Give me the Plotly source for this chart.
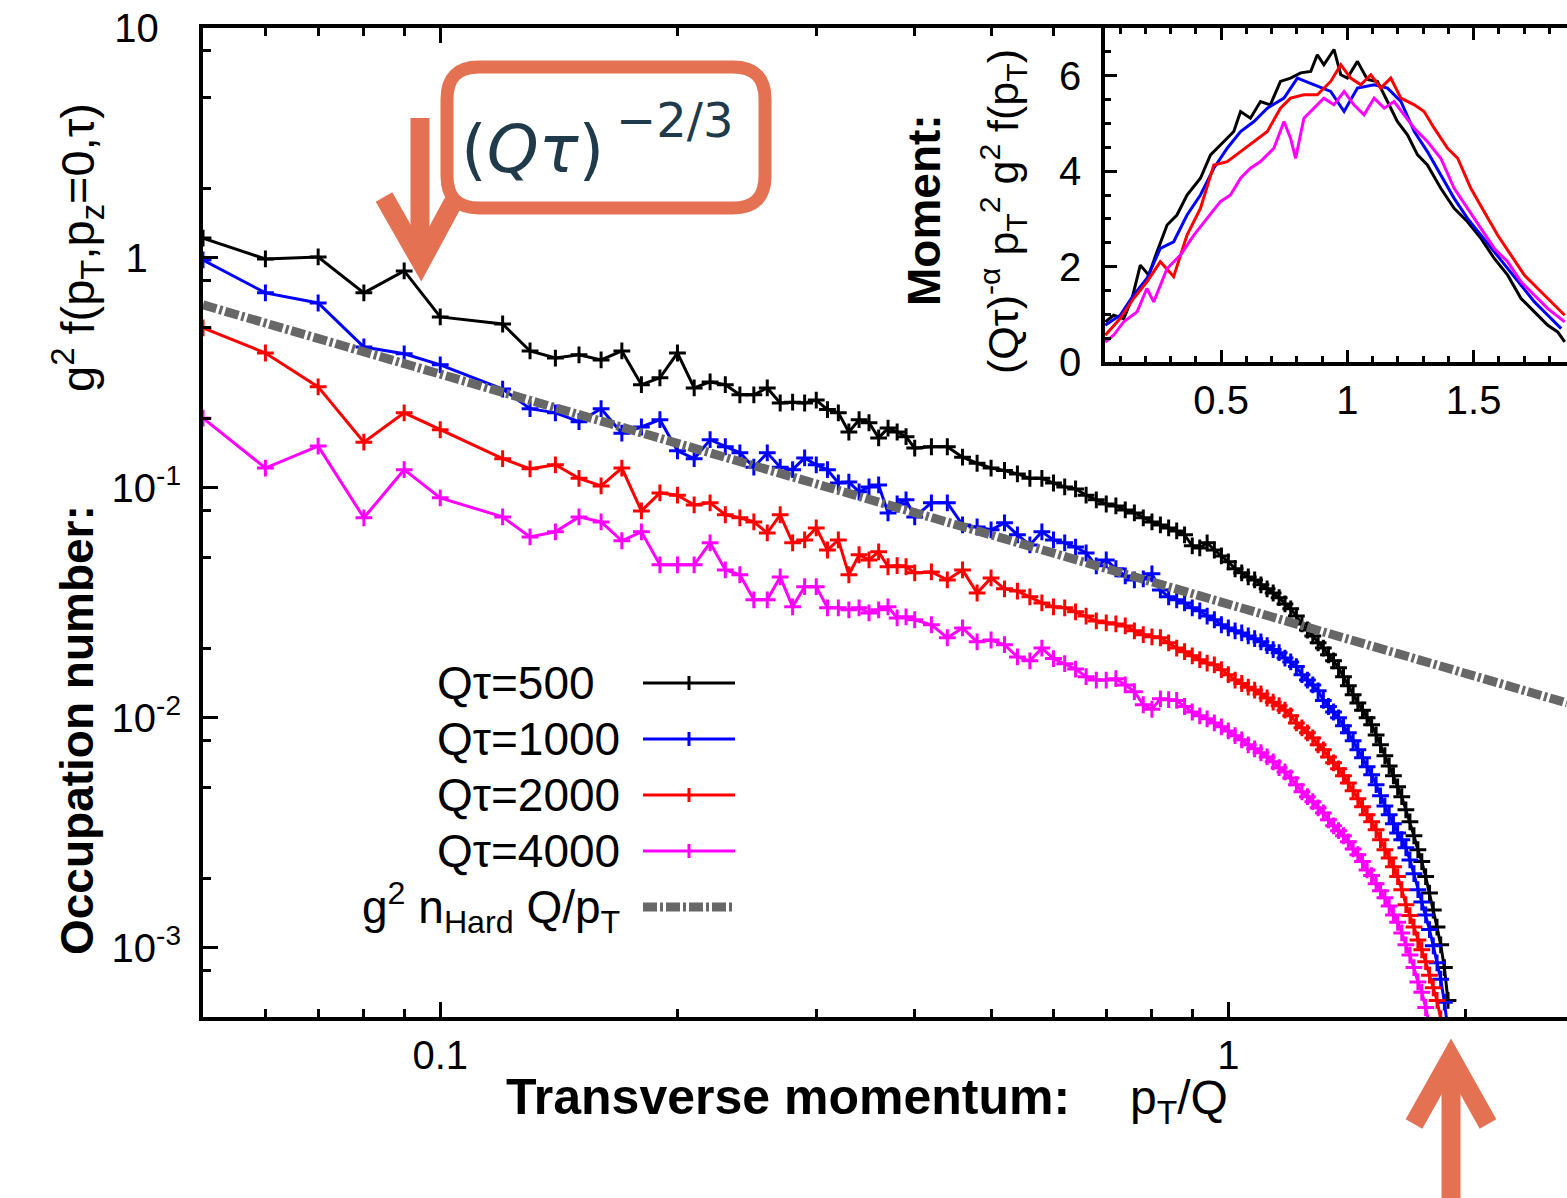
import math
import plotly.graph_objects as go

# ---------------------------------------------------------------- data
# transverse momentum grid p_T/Q of the lattice spectra
pt = [0.05, 0.06, 0.07, 0.08, 0.09, 0.10,
      0.12, 0.13, 0.14, 0.15, 0.16, 0.17, 0.18, 0.19, 0.20, 0.21, 0.22, 0.23,
      0.24, 0.25, 0.26, 0.27, 0.28, 0.29, 0.30, 0.31, 0.32, 0.33, 0.34, 0.35,
      0.36, 0.37, 0.38, 0.39,
      0.40, 0.42, 0.44, 0.46, 0.48, 0.50, 0.52, 0.54, 0.56, 0.58, 0.60, 0.62,
      0.64, 0.66, 0.68, 0.70, 0.72, 0.74, 0.76, 0.78, 0.80, 0.82, 0.84, 0.86,
      0.88, 0.90, 0.92, 0.94, 0.96, 0.98, 1.00, 1.02, 1.04, 1.06, 1.08, 1.10,
      1.12, 1.14, 1.16, 1.18, 1.20, 1.22, 1.24, 1.26, 1.28, 1.30, 1.32, 1.34,
      1.36, 1.38, 1.40, 1.42, 1.44, 1.46, 1.48, 1.50, 1.52, 1.54, 1.56, 1.58,
      1.60, 1.62, 1.64, 1.66, 1.68, 1.70, 1.72, 1.74, 1.76, 1.78, 1.80, 1.82,
      1.84, 1.86, 1.88, 1.90]

# g^2 f(p_T, p_z=0, tau) at Q tau = 500
occ_500 = [1.22, 0.99, 1.01, 0.705, 0.878, 0.554,
           0.516, 0.394, 0.367, 0.379, 0.360, 0.394, 0.281, 0.301, 0.386, 0.272,
           0.289, 0.281, 0.254, 0.254, 0.272, 0.234, 0.236, 0.234, 0.241, 0.219,
           0.212, 0.175, 0.198, 0.192, 0.165, 0.182, 0.175, 0.167,
           0.149, 0.151, 0.151, 0.136, 0.128, 0.122, 0.119, 0.115, 0.110, 0.110,
           0.105, 0.101, 0.099, 0.093, 0.0887, 0.0851, 0.0835, 0.0802, 0.0778,
           0.0741, 0.0711, 0.0690, 0.0670, 0.0650, 0.0625, 0.0560, 0.0548,
           0.0577, 0.0537, 0.0506, 0.0477, 0.0445, 0.0427, 0.0410, 0.0398,
           0.0379, 0.0364, 0.0349, 0.0333, 0.0313, 0.0298, 0.0277, 0.0256,
           0.0241, 0.0227, 0.0212, 0.0201, 0.0188, 0.0177, 0.0165, 0.0151,
           0.0138, 0.0126, 0.0116, 0.0108, 0.0100, 0.00933, 0.00843, 0.00763,
           0.00684, 0.00618, 0.00560, 0.00501, 0.00454, 0.00398, 0.00353,
           0.00307, 0.00267, 0.00237, 0.00204, 0.00173, 0.00146, 0.00123,
           0.00103, 0.00082, 0.00059]

# Q tau = 1000
occ_1000 = [0.98, 0.705, 0.637, 0.410, 0.383, 0.343,
            0.269, 0.221, 0.212, 0.194, 0.221, 0.173, 0.184, 0.198, 0.145, 0.134,
            0.162, 0.151, 0.142, 0.123, 0.142, 0.123, 0.120, 0.135, 0.126, 0.120,
            0.105, 0.106, 0.0961, 0.101, 0.103, 0.0778, 0.0851, 0.0887,
            0.0748, 0.0861, 0.0861, 0.0690, 0.0676, 0.0657, 0.0705, 0.0625,
            0.0565, 0.0644, 0.0594, 0.0577, 0.0553, 0.0521, 0.0458, 0.0486,
            0.0445, 0.0414, 0.0398, 0.0402, 0.0423, 0.0360, 0.0336, 0.0326,
            0.0316, 0.0301, 0.0292, 0.0277, 0.0267, 0.0254, 0.0246, 0.0239,
            0.0234, 0.0227, 0.0221, 0.0214, 0.0206, 0.0198, 0.0192, 0.0182,
            0.0175, 0.0167, 0.0154, 0.0146, 0.0139, 0.0131, 0.0119, 0.0112,
            0.0106, 0.0100, 0.00923, 0.00861, 0.00794, 0.00726, 0.00670,
            0.00612, 0.00565, 0.00512, 0.00458, 0.00414, 0.00379, 0.00346,
            0.00316, 0.00295, 0.00272, 0.00241, 0.00210, 0.00179, 0.00158,
            0.00139, 0.00120, 0.00102, 0.00086, 0.00073, 0.00058, 0.00044]

# Q tau = 2000
occ_2000 = [0.496, 0.386, 0.275, 0.158, 0.212, 0.179,
            0.134, 0.121, 0.126, 0.110, 0.102, 0.122, 0.0794, 0.0951, 0.093,
            0.0843, 0.0861, 0.0764, 0.0741, 0.0711, 0.0637, 0.0764, 0.0577,
            0.0594, 0.0670, 0.0537, 0.0594, 0.0419, 0.0512, 0.0486, 0.0527,
            0.0454, 0.0459, 0.0454,
            0.0427, 0.0431, 0.0398, 0.0440, 0.0349, 0.0406, 0.0364, 0.0356,
            0.0336, 0.0316, 0.0304, 0.0301, 0.0289, 0.0277, 0.0264, 0.0259,
            0.0256, 0.0251, 0.0239, 0.0230, 0.0225, 0.0223, 0.0212, 0.0201,
            0.0194, 0.0186, 0.0179, 0.0173, 0.0170, 0.0162, 0.0154, 0.0146,
            0.0141, 0.0136, 0.0132, 0.0127, 0.0122, 0.0117, 0.0113, 0.0108,
            0.0102, 0.0095, 0.00905, 0.00861, 0.00818, 0.00763, 0.00726,
            0.00676, 0.00637, 0.00600, 0.00560, 0.00521, 0.00482, 0.00445,
            0.00410, 0.00379, 0.00353, 0.00326, 0.00295, 0.00267, 0.00246,
            0.00225, 0.00204, 0.00179, 0.00154, 0.00138, 0.00123, 0.00108,
            0.00098, 0.00087, 0.00076, 0.00067, 0.00059, 0.00049, None, None]

# Q tau = 4000
occ_4000 = [0.201, 0.122, 0.152, 0.0741, 0.120, 0.0905,
            0.0748, 0.0612, 0.0644, 0.0748, 0.0711, 0.0589, 0.0644, 0.0463,
            0.0463, 0.0463, 0.0577, 0.0440, 0.0419, 0.0326, 0.0326, 0.0410,
            0.0304, 0.0372, 0.0372, 0.0301, 0.0301, 0.0295, 0.0301, 0.0286,
            0.0295, 0.0304, 0.0272, 0.0275,
            0.0267, 0.0254, 0.0223, 0.0246, 0.0214, 0.0218, 0.0208, 0.0184,
            0.0177, 0.0201, 0.0181, 0.0172, 0.0163, 0.0151, 0.0146, 0.0146,
            0.0148, 0.0139, 0.0130, 0.0114, 0.0109, 0.0121, 0.0120, 0.0119,
            0.0112, 0.0106, 0.0102, 0.0099, 0.0095, 0.00914, 0.00877, 0.00836,
            0.00802, 0.00763, 0.00733, 0.00705, 0.00676, 0.00644, 0.00607,
            0.00582, 0.00548, 0.00512, 0.00477, 0.00454, 0.00432, 0.00406,
            0.00386, 0.00360, 0.00339, 0.00323, 0.00307, 0.00289, 0.00269,
            0.00254, 0.00237, 0.00218, 0.00206, 0.00190, 0.00177, 0.00165,
            0.00152, 0.00139, 0.00129, 0.00116, 0.00103, 0.00093, 0.00082,
            0.00071, 0.00064, 0.00055, 0.00046, None, None, None, None, None]

# hard-scale reference  g^2 n_Hard Q/p_T
hard_pt = [0.05, 2.69]
hard_val = [0.625, 0.0116]

# inset: rescaled moment (Q tau)^-alpha p_T^2 g^2 f(p_T)
mom_x_500 = [0.041, 0.074, 0.114, 0.147, 0.18, 0.213, 0.246, 0.286, 0.325,
             0.365, 0.418, 0.458, 0.511, 0.55, 0.577, 0.616, 0.656, 0.695,
             0.735, 0.775, 0.815, 0.855, 0.881, 0.907, 0.947, 0.974, 1.0,
             1.04, 1.079, 1.119, 1.159, 1.198, 1.238, 1.278, 1.317, 1.37,
             1.423, 1.476, 1.529, 1.582, 1.635, 1.688, 1.741, 1.794, 1.833,
             1.861]
mom_y_500 = [0.84, 0.98, 0.91, 1.33, 2.03, 1.82, 2.31, 2.87, 3.08, 3.50, 3.85,
             4.34, 4.62, 4.83, 5.25, 5.11, 5.46, 5.39, 5.88, 5.95, 6.06, 6.09,
             6.44, 6.23, 6.55, 6.02, 5.95, 6.30, 5.92, 5.88, 5.46, 5.04, 4.76,
             4.34, 4.13, 3.64, 3.22, 2.94, 2.59, 2.17, 1.82, 1.33, 1.05, 0.77,
             0.63, 0.42]

mom_x_1000 = [0.041, 0.10, 0.153, 0.206, 0.259, 0.312, 0.365, 0.418, 0.471,
              0.524, 0.577, 0.63, 0.683, 0.749, 0.802, 0.868, 0.934, 0.987,
              1.04, 1.106, 1.159, 1.212, 1.265, 1.317, 1.37, 1.423, 1.476,
              1.529, 1.582, 1.635, 1.688, 1.741, 1.794, 1.847]
mom_y_1000 = [0.77, 0.98, 1.40, 1.75, 2.38, 2.52, 3.08, 3.50, 4.06, 4.48, 4.83,
              5.04, 5.32, 5.53, 5.95, 5.81, 5.67, 5.25, 5.74, 5.81, 5.74, 5.46,
              4.83, 4.41, 3.92, 3.43, 3.01, 2.66, 2.31, 1.96, 1.61, 1.26, 0.98,
              0.70]

mom_x_2000 = [0.041, 0.10, 0.153, 0.206, 0.259, 0.312, 0.365, 0.418, 0.471,
              0.524, 0.577, 0.63, 0.683, 0.735, 0.775, 0.828, 0.881, 0.934,
              0.974, 1.013, 1.053, 1.093, 1.132, 1.172, 1.212, 1.265, 1.304,
              1.344, 1.397, 1.437, 1.489, 1.542, 1.595, 1.648, 1.701, 1.754,
              1.807, 1.861]
mom_y_2000 = [0.56, 0.91, 1.33, 1.68, 2.10, 1.79, 2.66, 3.22, 4.13, 4.20, 4.41,
              4.62, 4.83, 5.32, 5.53, 5.60, 5.60, 5.88, 6.23, 5.95, 5.81, 6.02,
              5.74, 5.95, 5.53, 5.39, 5.25, 4.90, 4.48, 4.27, 3.64, 3.15, 2.66,
              2.24, 1.82, 1.54, 1.26, 0.98]

mom_x_4000 = [0.041, 0.074, 0.114, 0.167, 0.206, 0.233, 0.286, 0.339, 0.392,
              0.444, 0.497, 0.537, 0.577, 0.616, 0.656, 0.709, 0.749, 0.775,
              0.795, 0.828, 0.868, 0.907, 0.947, 0.987, 1.026, 1.066, 1.106,
              1.146, 1.185, 1.225, 1.265, 1.317, 1.37, 1.423, 1.476, 1.529,
              1.582, 1.635, 1.688, 1.741, 1.794, 1.861]
mom_y_4000 = [0.42, 0.56, 0.84, 1.05, 1.54, 1.26, 1.96, 2.24, 2.66, 3.01, 3.36,
              3.50, 3.85, 4.06, 4.20, 4.48, 5.04, 4.69, 4.27, 5.11, 5.32, 5.53,
              5.39, 5.67, 5.39, 5.18, 5.53, 5.32, 5.46, 5.18, 4.90, 4.62, 4.27,
              3.64, 3.22, 2.80, 2.38, 2.10, 1.68, 1.40, 1.12, 0.84]

labels = ["Q\u03c4=500", "Q\u03c4=1000", "Q\u03c4=2000", "Q\u03c4=4000"]

# ---------------------------------------------------------------- layout
W, H = 1567, 1198
ML, MR, MT, MB = 203, 0, 28, 181
FONT = "Liberation Sans, Arial, Helvetica, sans-serif"
ORANGE = "#E57153"
GRAY = "#676767"
COLORS = ["#000000", "#0000ff", "#ff0000", "#ff00ff"]


def px(X):
    """canvas pixel column -> paper x"""
    return (X - ML) / (W - ML - MR)


def py(Y):
    """canvas pixel row -> paper y"""
    return (H - MB - Y) / (H - MT - MB)


fig = go.Figure()

main_series = [occ_500, occ_1000, occ_2000, occ_4000]
for lab, vals, col in zip(labels, main_series, COLORS):
    fig.add_trace(go.Scatter(
        x=pt, y=vals, name=lab, mode="lines+markers",
        line=dict(color=col, width=3),
        marker=dict(symbol="cross-thin", size=12,
                    line=dict(color=col, width=3)),
        xaxis="x", yaxis="y", showlegend=False))

fig.add_trace(go.Scatter(
    x=hard_pt, y=hard_val, mode="lines",
    line=dict(color=GRAY, width=9, dash="14px,3px,3px,3px"),
    xaxis="x", yaxis="y", showlegend=False))

inset = [(mom_x_500, mom_y_500), (mom_x_1000, mom_y_1000),
         (mom_x_2000, mom_y_2000), (mom_x_4000, mom_y_4000)]
for (ix, iy), col in zip(inset, COLORS):
    fig.add_trace(go.Scatter(
        x=ix, y=iy, mode="lines", line=dict(color=col, width=3),
        xaxis="x2", yaxis="y2", showlegend=False))

TICKF = dict(family=FONT, size=40, color="black")

x_minor = [0.06, 0.07, 0.08, 0.09, 0.2, 0.3, 0.4, 0.5, 0.6, 0.7, 0.8, 0.9, 2]
y_minor = [8, 5, 2, 0.8, 0.5, 0.2, 0.08, 0.05, 0.02, 0.008, 0.005, 0.002,
           0.0008]

fig.update_layout(
    width=W, height=H,
    margin=dict(l=ML, r=MR, t=MT, b=MB),
    paper_bgcolor="white", plot_bgcolor="white",
    font=dict(family=FONT, color="black"),
    showlegend=False,
    xaxis=dict(
        type="log", range=[math.log10(0.05), math.log10(2.69)],
        domain=[0, 1], anchor="y",
        showgrid=False, zeroline=False,
        showline=True, linewidth=4, linecolor="black", mirror="allticks",
        ticks="inside", ticklen=15, tickwidth=2.5, tickcolor="black",
        tickvals=[0.1, 1], ticktext=["0.1", "1"], tickfont=TICKF,
        ticklabelstandoff=0,
        minor=dict(ticks="inside", ticklen=8, tickwidth=2.5,
                   tickcolor="black", tickvals=x_minor, showgrid=False),
    ),
    yaxis=dict(
        type="log", range=[math.log10(5e-4), 1],
        domain=[0, 1], anchor="x",
        showgrid=False, zeroline=False,
        showline=True, linewidth=4, linecolor="black", mirror=False,
        ticks="inside", ticklen=15, tickwidth=2.5, tickcolor="black",
        tickvals=[10, 1, 0.1, 0.01, 0.001],
        ticktext=["10\u00a0\u00a0", "1\u00a0\u00a0\u00a0",
                  "10<sup>-1</sup>", "10<sup>-2</sup>", "10<sup>-3</sup>"],
        tickfont=TICKF, ticklabelstandoff=10,
        minor=dict(ticks="inside", ticklen=8, tickwidth=2.5,
                   tickcolor="black", tickvals=y_minor, showgrid=False),
    ),
    xaxis2=dict(
        range=[0.04, 1.87], domain=[px(1105), 1], anchor="y2",
        showgrid=False, zeroline=False,
        showline=True, linewidth=3.5, linecolor="black", mirror="allticks",
        ticks="inside", ticklen=12, tickwidth=2.5, tickcolor="black",
        tickvals=[0.5, 1, 1.5], ticktext=["0.5", "1", "1.5"],
        tickfont=dict(family=FONT, size=40, color="black"),
        ticklabelstandoff=0,
        minor=dict(ticks="inside", ticklen=6, tickwidth=2.5,
                   tickcolor="black", dtick=0.1, showgrid=False),
    ),
    yaxis2=dict(
        range=[0, 7], domain=[py(362), 1], anchor="x2",
        showgrid=False, zeroline=False,
        showline=True, linewidth=3.5, linecolor="black", mirror=False,
        ticks="inside", ticklen=12, tickwidth=2.5, tickcolor="black",
        tickvals=[0, 2, 4, 6],
        tickfont=dict(family=FONT, size=40, color="black"),
        ticklabelstandoff=12,
        minor=dict(ticks="inside", ticklen=6, tickwidth=2.5,
                   tickcolor="black", dtick=0.5, showgrid=False),
    ),
)

ann = []


def text(t, X, Y, size, xanchor="center", angle=0, family=FONT,
         color="black"):
    ann.append(dict(text=t, x=px(X), y=py(Y), xref="paper", yref="paper",
                    xanchor=xanchor, yanchor="middle", showarrow=False,
                    textangle=angle,
                    font=dict(family=family, size=size, color=color)))


# axis titles
text("<b>Occupation number:</b>", 77, 730, 46, angle=-90)
text("g<sup>2</sup> f(p<sub>T</sub>,p<sub>z</sub>=0,\u03c4)", 77, 248, 47,
     angle=-90)
text("<b>Transverse momentum:</b>", 504, 1097, 50, xanchor="left")
text("p<sub>T</sub>/Q", 1128, 1101, 48, xanchor="left")

# inset title
text("<b>Moment:</b>", 924, 210, 46, angle=-90)
text("(Q\u03c4)<sup>-\u03b1</sup> p<sub>T</sub><sup>2</sup> g<sup>2</sup> "
     "f(p<sub>T</sub>)", 1003, 212, 43, angle=-90)

# key
rows = [683, 739, 795, 851, 907]
key_text = ["Q\u03c4=500\u00a0\u00a0", "Q\u03c4=1000", "Q\u03c4=2000",
            "Q\u03c4=4000", "g<sup>2</sup> n<sub>Hard</sub> Q/p<sub>T</sub>"]
for t, r in zip(key_text, rows):
    text(t, 622, r, 46, xanchor="right")

shapes = []
for col, r in zip(COLORS, rows[:4]):
    shapes.append(dict(type="line", xref="paper", yref="paper",
                       x0=px(643), x1=px(735), y0=py(r), y1=py(r),
                       line=dict(color=col, width=3)))
    shapes.append(dict(type="line", xref="paper", yref="paper",
                       x0=px(689), x1=px(689), y0=py(r - 7), y1=py(r + 7),
                       line=dict(color=col, width=3)))
shapes.append(dict(type="line", xref="paper", yref="paper",
                   x0=px(643), x1=px(735), y0=py(rows[4]), y1=py(rows[4]),
                   line=dict(color=GRAY, width=9, dash="14px,3px,3px,3px")))

# callout box with the scaling exponent
bx0, by0, bx1, by1, rr = 447, 67, 765, 208, 32
box = (f"M {px(bx0 + rr)},{py(by0)} L {px(bx1 - rr)},{py(by0)} "
       f"Q {px(bx1)},{py(by0)} {px(bx1)},{py(by0 + rr)} "
       f"L {px(bx1)},{py(by1 - rr)} "
       f"Q {px(bx1)},{py(by1)} {px(bx1 - rr)},{py(by1)} "
       f"L {px(bx0 + rr)},{py(by1)} "
       f"Q {px(bx0)},{py(by1)} {px(bx0)},{py(by1 - rr)} "
       f"L {px(bx0)},{py(by0 + rr)} "
       f"Q {px(bx0)},{py(by0)} {px(bx0 + rr)},{py(by0)} Z")
shapes.append(dict(type="path", xref="paper", yref="paper", path=box,
                   fillcolor="white", line=dict(color=ORANGE, width=13),
                   layer="above"))


# arrows
def arrow_path(pts):
    return "M " + " L ".join(f"{px(a)},{py(b)}" for a, b in pts)


for pts in ([(420, 118), (420, 258)],
            [(384, 197), (421, 262), (456, 197)],
            [(1451, 1210), (1451, 1062)],
            [(1414, 1124), (1451, 1058), (1488, 1124)]):
    shapes.append(dict(type="path", xref="paper", yref="paper",
                       path=arrow_path(pts),
                       line=dict(color=ORANGE, width=19), layer="above"))

MATH = "DejaVu Sans, sans-serif"
text("(<i>Q\u03c4</i>)", 532, 150, 66, family=MATH, color="#1f3a4b")
text("\u22122/3", 674, 120, 48, family=MATH, color="#1f3a4b")

fig.update_layout(annotations=ann, shapes=shapes)

fig.write_html("out.html")
